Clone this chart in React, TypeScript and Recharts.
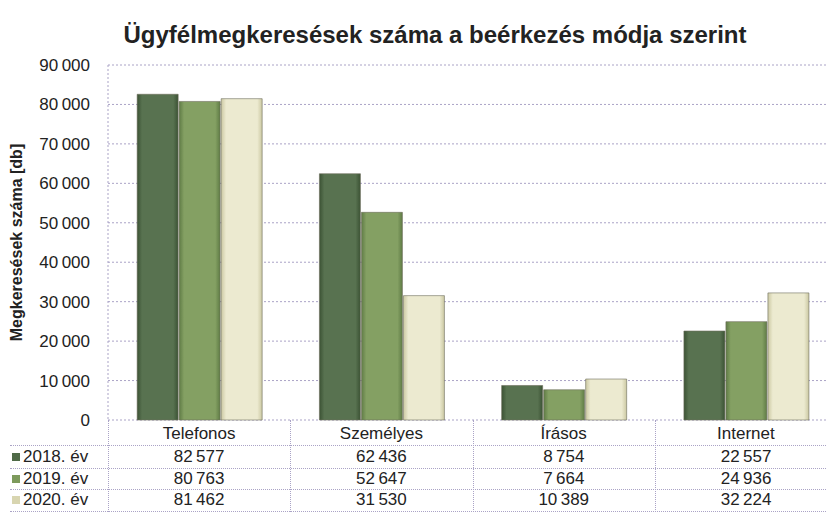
import React from "react";
import { BarChart, Bar, XAxis, YAxis, CartesianGrid, Label } from "recharts";

const categories = ["Telefonos", "Személyes", "Írásos", "Internet"];
const years = ["2018. év", "2019. év", "2020. év"];
const values2018 = [82577, 62436, 8754, 22557];
const values2019 = [80763, 52647, 7664, 24936];
const values2020 = [81462, 31530, 10389, 32224];
const yTicks = [0, 10000, 20000, 30000, 40000, 50000, 60000, 70000, 80000, 90000];

const FONT = '"Liberation Sans", Arial, sans-serif';
const GRID = "#aaa3c6";

const SERIES = [
  { key: "y2018", values: values2018, mid: "#587250", edge: "#3b5234", key_color: "#4f6a47" },
  { key: "y2019", values: values2019, mid: "#84a063", edge: "#5f7b45", key_color: "#7d9a5c" },
  { key: "y2020", values: values2020, mid: "#ecead0", edge: "#cbc8a2", key_color: "#d8d5b0" },
];

const chartData = categories.map((c, i) => ({
  name: c,
  y2018: values2018[i],
  y2019: values2019[i],
  y2020: values2020[i],
}));

function fmt(v: number): string {
  return v.toLocaleString("en-US").replace(/,/g, "\u202f");
}

const PLOT_LEFT = 108;
const CAT_W = 182.3;
const ROWS = [
  { top: 445, h: 23 },
  { top: 468, h: 21 },
  { top: 489, h: 22 },
];

export default function App() {
  return (
    <div
      style={{
        position: "absolute",
        left: 0,
        top: 0,
        width: 827,
        height: 524,
        overflow: "hidden",
        background: "#fff",
        fontFamily: FONT,
        color: "#222",
      }}
    >
      <div
        style={{
          position: "absolute",
          top: 21,
          left: 20,
          width: 830,
          textAlign: "center",
          fontSize: 24,
          fontWeight: "bold",
          color: "#222",
        }}
      >
        Ügyfélmegkeresések száma a beérkezés módja szerint
      </div>
      <BarChart
        width={840}
        height={445}
        data={chartData}
        margin={{ top: 65, right: 3, bottom: 0, left: 0 }}
        barCategoryGap="16%"
        barGap={1}
        style={{ position: "absolute", left: 0, top: 0 }}
      >
        <defs>
          {SERIES.map((s) => (
            <linearGradient key={s.key} id={`g-${s.key}`} x1="0" y1="0" x2="1" y2="0">
              <stop offset="0%" stopColor={s.edge} />
              <stop offset="12%" stopColor={s.mid} />
              <stop offset="88%" stopColor={s.mid} />
              <stop offset="100%" stopColor={s.edge} />
            </linearGradient>
          ))}
        </defs>
        <CartesianGrid
          vertical={false}
          stroke={GRID}
          strokeDasharray="2 2"
        />
        <XAxis
          dataKey="name"
          axisLine={false}
          tickLine={false}
          height={25}
          tick={{ fontSize: 17, fill: "#222", fontFamily: FONT }}
          tickMargin={1}
        />
        <YAxis
          domain={[0, 90000]}
          ticks={yTicks}
          width={108}
          tickSize={0}
          tickMargin={18}
          interval={0}
          tickFormatter={fmt}
          axisLine={{ stroke: GRID, strokeDasharray: "2 2" }}
          tick={{ fontSize: 17, fill: "#222", fontFamily: FONT }}
        >
          <Label
            value="Megkeresések száma [db]"
            angle={-90}
            position="insideLeft"
            offset={16}
            style={{ fontSize: 16, fontWeight: "bold", fill: "#222", fontFamily: FONT, textAnchor: "middle" }}
          />
        </YAxis>
        {SERIES.map((s) => (
          <Bar
            key={s.key}
            dataKey={s.key}
            fill={`url(#g-${s.key})`}
            stroke="#6b6b5a"
            strokeWidth={0.6}
            isAnimationActive={false}
          />
        ))}
      </BarChart>

      {/* data table */}
      {[0, 1, 2, 3, 4].map((i) => (
        <div
          key={`v${i}`}
          style={{
            position: "absolute",
            left: PLOT_LEFT + i * CAT_W,
            top: 420,
            height: 92,
            borderLeft: `1px dotted ${GRID}`,
          }}
        />
      ))}
      {[445, 468, 489, 511].map((y) => (
        <div
          key={`h${y}`}
          style={{
            position: "absolute",
            left: 10,
            top: y,
            width: 830,
            borderTop: `1px dotted ${GRID}`,
          }}
        />
      ))}
      {SERIES.map((s, r) => (
        <React.Fragment key={s.key}>
          <div
            style={{
              position: "absolute",
              left: 12,
              top: ROWS[r].top,
              height: ROWS[r].h,
              display: "flex",
              alignItems: "center",
              fontSize: 17,
            }}
          >
            <span
              style={{
                display: "inline-block",
                width: 8,
                height: 8,
                background: s.key_color,
                marginRight: 3,
              }}
            />
            {years[r]}
          </div>
          {s.values.map((v, c) => (
            <div
              key={c}
              style={{
                position: "absolute",
                left: PLOT_LEFT + c * CAT_W,
                width: CAT_W,
                top: ROWS[r].top,
                height: ROWS[r].h,
                lineHeight: `${ROWS[r].h}px`,
                textAlign: "center",
                fontSize: 17,
              }}
            >
              {fmt(v)}
            </div>
          ))}
        </React.Fragment>
      ))}
    </div>
  );
}
